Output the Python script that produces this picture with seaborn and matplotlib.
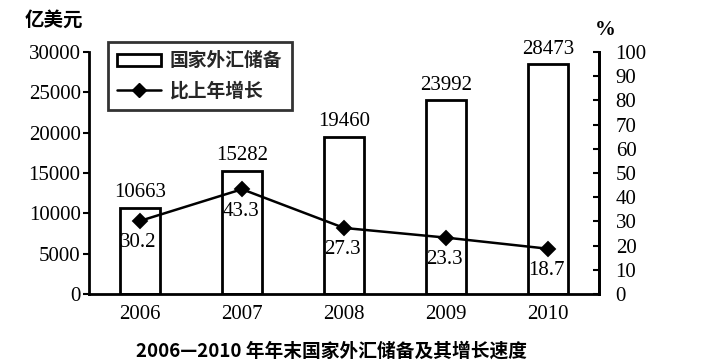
import matplotlib
matplotlib.use("Agg")
import matplotlib.pyplot as plt
import seaborn as sns
import pandas as pd
from matplotlib.lines import Line2D
from matplotlib.patches import Patch

years = ["2006", "2007", "2008", "2009", "2010"]
reserves = [10663, 15282, 19460, 23992, 28473]
growth = [30.2, 43.3, 27.3, 23.3, 18.7]

sns.set_theme(style="white")
plt.rcParams['font.family'] = ['Liberation Serif', 'Noto Sans CJK SC']
CJK = ['Noto Sans CJK SC', 'DejaVu Sans']

df = pd.DataFrame({"year": years, "reserves": reserves, "growth": growth})

fig = plt.figure(figsize=(7.07, 3.64), dpi=100)
ax = fig.add_axes([89/707, 1-294/364, (599-89)/707, (294-52)/364])
sns.barplot(data=df, x="year", y="reserves", ax=ax, color="white",
            edgecolor="black", linewidth=2, width=0.4, saturation=1)
ax.set_ylim(0, 30000)
ax.set_xlim(-0.5, 4.5)
ax.set_yticks(range(0, 30001, 5000))
ax.set_xlabel("")
ax.set_ylabel("")
for s in ["left", "bottom", "right"]:
    ax.spines[s].set_linewidth(2)
    ax.spines[s].set_color("black")
ax.spines["top"].set_visible(False)
ax.tick_params(axis="y", direction="out", length=4, width=1.5, labelsize=15, colors="black", pad=2)
ax.tick_params(axis="x", length=0, labelsize=15, colors="black", pad=8)
for i, v in enumerate(reserves):
    ax.annotate(str(v), (i, v), xytext=(0, 4), textcoords="offset points",
                ha="center", va="bottom", fontsize=15, color="black")

ax2 = ax.twinx()
sns.pointplot(data=df, x="year", y="growth", ax=ax2, color="black",
              markers="D", markersize=7, linewidth=1.8)
ax2.set_ylim(0, 100)
ax2.set_xlim(-0.5, 4.5)
ax2.set_yticks(range(0, 101, 10))
ax2.set_ylabel("")
ax2.set_xlabel("")
ax2.spines["top"].set_visible(False)
ax2.spines["right"].set_linewidth(2)
ax2.spines["right"].set_color("black")
ax2.spines["left"].set_visible(False)
ax2.spines["bottom"].set_visible(False)
ax2.tick_params(axis="y", direction="in", length=4, width=1.5, labelsize=15, colors="black", pad=12)
for i, v in enumerate(growth):
    ax2.annotate(f"{v}", (i, v), xytext=(-1, -9), textcoords="offset points",
                 ha="center", va="top", fontsize=15, color="black")

handles = [Patch(facecolor="white", edgecolor="black", linewidth=2),
           Line2D([0], [0], color="black", marker="D", markersize=7, linewidth=1.8)]
leg = fig.legend(handles, ["国家外汇储备", "比上年增长"], loc="upper left",
                 bbox_to_anchor=(108/707, 1-42/364), frameon=True, fancybox=False,
                 prop={"family": CJK, "size": 13.5, "weight": "bold"},
                 handlelength=2.3, handleheight=0.6, borderpad=0.5, labelspacing=0.6,
                 handletextpad=0.5, borderaxespad=0)
leg.get_frame().set_edgecolor("black")
leg.get_frame().set_linewidth(2)

fig.text(25/707, 1-20/364, "亿美元", family=CJK, fontsize=14, weight="bold",
         ha="left", va="center", color="black")
fig.text(605/707, 1-30/364, "%", fontsize=15, weight="bold",
         ha="center", va="center", color="black")
fig.text(332/707, 1-351/364, "2006—2010 年年末国家外汇储备及其增长速度", family=CJK,
         fontsize=13.5, weight="bold", ha="center", va="center", color="black")

fig.savefig("out.png", dpi=100)
